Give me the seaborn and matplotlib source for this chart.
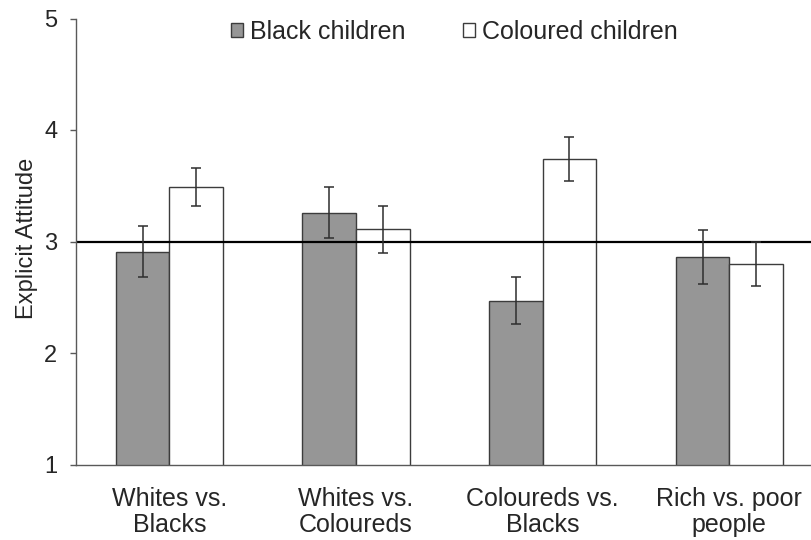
import matplotlib
matplotlib.use("Agg")
import matplotlib.pyplot as plt
import seaborn as sns
import pandas as pd

# Mean explicit attitude ratings per target pair, with standard errors
pairs = ["Whites vs.\nBlacks", "Whites vs.\nColoureds", "Coloureds vs.\nBlacks", "Rich vs. poor\npeople"]
groups = ["Black children", "Coloured children"]
black_means = [2.91, 3.26, 2.47, 2.86]
black_se = [0.23, 0.23, 0.21, 0.24]
coloured_means = [3.49, 3.11, 3.74, 2.80]
coloured_se = [0.17, 0.21, 0.20, 0.20]
y_ticks = [1, 2, 3, 4, 5]
neutral_point = 3

sns.set_style("white")
plt.rcParams["font.family"] = ["Liberation Sans", "DejaVu Sans"]

df = pd.DataFrame({
    "pair": pairs * 2,
    "group": [groups[0]] * len(pairs) + [groups[1]] * len(pairs),
    "attitude": black_means + coloured_means,
})

fig = plt.figure(figsize=(8.12, 5.40), dpi=100)
ax = fig.add_axes([76 / 812, 75.5 / 540, 746.7 / 812, 446 / 540])

edge = "#3c3c3c"
sns.barplot(data=df, x="pair", y="attitude", hue="group", order=pairs,
            hue_order=groups, palette={groups[0]: "#969696", groups[1]: "#ffffff"},
            width=0.574, edgecolor=edge, linewidth=1.0, errorbar=None,
            dodge=True, ax=ax, legend=True)

# Reference line at the scale midpoint
ax.axhline(neutral_point, color="black", lw=1.6, zorder=2)

# Error bars at the centre of each bar
for container, errs in zip(ax.containers, [black_se, coloured_se]):
    xs = [p.get_x() + p.get_width() / 2 for p in container]
    ys = [p.get_height() for p in container]
    ax.errorbar(xs, ys, yerr=errs, fmt="none", ecolor="#2e2e2e",
                elinewidth=1.1, capsize=3.8, capthick=1.1, zorder=4)

ax.set_ylim(1, 5)
ax.set_xlim(-0.5, 3.5)
ax.set_yticks(y_ticks)
ax.set_yticklabels([str(t) for t in y_ticks], fontsize=17)
ax.set_xlabel("")
ax.set_ylabel("Explicit Attitude", fontsize=17)
ax.yaxis.set_label_coords(-0.051, 0.507)

for lbl in ax.get_xticklabels():
    lbl.set_fontsize(18)
    lbl.set_linespacing(1.1)

ax.set_xticks([-0.5, 0.5, 1.5, 2.5, 3.5], minor=True)
ax.tick_params(axis="x", which="major", length=0, pad=16)
ax.tick_params(axis="x", which="minor", length=5, width=1.0, color="#595959", direction="out")
ax.tick_params(axis="y", which="major", length=4.5, width=1.0, color="#595959",
               direction="out", pad=9, left=True)

for side in ["top", "right"]:
    ax.spines[side].set_visible(False)
for side in ["left", "bottom"]:
    ax.spines[side].set_color("#595959")
    ax.spines[side].set_linewidth(1.0)

handles, labels = ax.get_legend_handles_labels()
ax.legend(handles, labels, loc="center", bbox_to_anchor=(454.5 / 812, 1 - 32 / 540),
          bbox_transform=fig.transFigure, ncol=2, frameon=False, fontsize=18,
          handlelength=0.48, handleheight=0.48, handletextpad=0.28,
          columnspacing=2.3, borderpad=0.0)

fig.savefig("out.png", dpi=100)
